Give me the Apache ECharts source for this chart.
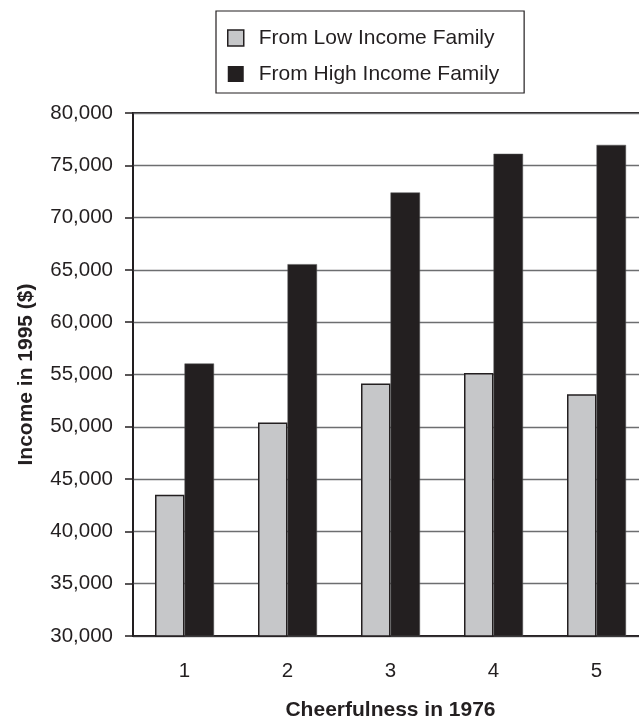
<!DOCTYPE html>
<html>
<head>
<meta charset="utf-8">
<script src="https://cdn.jsdelivr.net/npm/echarts@6/dist/echarts.min.js"></script>
<style>
html,body{margin:0;padding:0;background:#fff;}
#c{width:639px;height:717px;}
</style>
</head>
<body>
<div id="c"></div>
<script>
const categories = ['1', '2', '3', '4', '5'];
const lowIncome = [43500, 50400, 54150, 55150, 53100];
const highIncome = [56050, 65550, 72400, 76100, 76950];
const seriesNames = ['From Low Income Family', 'From High Income Family'];
const xTitle = 'Cheerfulness in 1976';
const yTitle = 'Income in 1995 ($)';

const FONT = '"Liberation Sans", Arial, Helvetica, sans-serif';
const INK = '#231f20';

const chart = echarts.init(document.getElementById('c'), null, {renderer: 'canvas'});
chart.setOption({
  animation: false,
  backgroundColor: '#ffffff',
  textStyle: {fontFamily: FONT, color: INK},
  legend: {
    orient: 'vertical',
    left: 216,
    top: 11,
    padding: [16, 25, 8, 11],
    itemGap: 14,
    itemWidth: 16,
    itemHeight: 16,
    borderColor: INK,
    borderWidth: 1.2,
    textStyle: {fontFamily: FONT, fontSize: 21, color: INK, lineHeight: 22, padding: [0, 0, 0, 10]},
    data: [
      {name: seriesNames[0], icon: 'rect', itemStyle: {color: '#c6c7c9', borderColor: INK, borderWidth: 1.5}},
      {name: seriesNames[1], icon: 'rect', itemStyle: {color: INK, borderWidth: 0}}
    ]
  },
  grid: {
    left: 133, top: 113, right: -9, bottom: 81,
    outerBoundsMode: 'none',
    show: true, borderColor: INK, borderWidth: 2, backgroundColor: 'transparent'
  },
  xAxis: {
    type: 'category',
    data: categories,
    boundaryGap: true,
    name: xTitle,
    nameLocation: 'middle',
    nameGap: 64,
    nameTextStyle: {fontFamily: FONT, fontSize: 21, fontWeight: 'bold', color: INK},
    axisLine: {lineStyle: {color: INK, width: 1.5}},
    axisTick: {length: 9, lineStyle: {color: INK, width: 1.5}},
    axisLabel: {margin: 25, fontFamily: FONT, fontSize: 20.5, color: INK},
    splitLine: {show: false}
  },
  yAxis: {
    type: 'value',
    min: 30000,
    max: 80000,
    interval: 5000,
    name: yTitle,
    nameLocation: 'middle',
    nameGap: 96,
    nameTextStyle: {fontFamily: FONT, fontSize: 21, fontWeight: 'bold', color: INK},
    axisLine: {show: true, lineStyle: {color: INK, width: 1.5}},
    axisTick: {show: true, length: 8, lineStyle: {color: INK, width: 1.5}},
    axisLabel: {
      margin: 20, fontFamily: FONT, fontSize: 20.5, color: INK,
      formatter: v => v.toLocaleString('en-US')
    },
    splitLine: {show: true, lineStyle: {color: '#6d6e70', width: 1.3}}
  },
  series: [
    {
      name: seriesNames[0], type: 'bar', data: lowIncome,
      barWidth: 29.5, barGap: '0%',
      itemStyle: {color: '#c6c7c9', borderColor: INK, borderWidth: 1.5}
    },
    {
      name: seriesNames[1], type: 'bar', data: highIncome,
      barWidth: 29.5, barGap: '0%',
      itemStyle: {color: INK, borderColor: '#555', borderWidth: 0.5}
    }
  ]
});
</script>
</body>
</html>
